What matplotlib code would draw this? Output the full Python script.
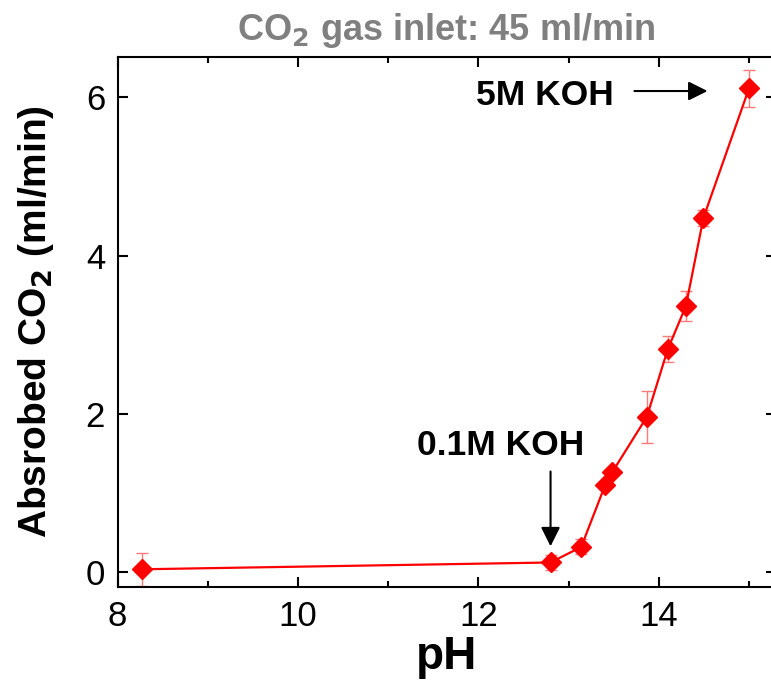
import matplotlib.pyplot as plt

plt.rcParams['font.family'] = ['Liberation Sans', 'DejaVu Sans']

# Absorbed CO2 vs pH
ph = [8.27, 12.80, 13.14, 13.405, 13.486, 13.867, 14.10, 14.30, 14.495, 15.00]
absorbed = [0.034, 0.12, 0.316, 1.097, 1.265, 1.96, 2.817, 3.36, 4.477, 6.114]
err = [0.21, 0.10, 0.095, 0.05, 0.05, 0.33, 0.16, 0.19, 0.10, 0.23]

fig = plt.figure(figsize=(7.71, 6.91), dpi=100)
ax = fig.add_axes([0.1524, 0.1505, 0.8536, 0.767])

ax.errorbar(ph, absorbed, yerr=err, fmt='none', ecolor='#ff7a7a', elinewidth=1,
            capsize=4, capthick=1, zorder=2)
ax.plot(ph, absorbed, color='red', linewidth=1.6, marker='D', markersize=10.5, zorder=3)

ax.set_xlim(8, 15.295)
ax.set_ylim(-0.19, 6.51)
ax.set_xticks([8, 10, 12, 14])
ax.set_xticks([9, 11, 13, 15], minor=True)
ax.set_yticks([0, 2, 4, 6])

ax.tick_params(which='both', direction='in', top=True, right=True, width=1.5)
ax.tick_params(which='major', length=7, labelsize=25, pad=9)
ax.tick_params(which='minor', length=4)
for s in ax.spines.values():
    s.set_linewidth(1.5)

ax.set_xlabel('pH', fontsize=33, fontweight='bold', labelpad=2)
ax.set_ylabel('Absrobed CO$_\\mathbf{2}$ (ml/min)', fontsize=28, fontweight='bold', labelpad=21)
ax.set_title('CO$_\\mathbf{2}$ gas inlet: 45 ml/min', fontsize=26, fontweight='bold',
             color='#808080', pad=12)

arrow = dict(arrowstyle='-|>,head_length=0.58,head_width=0.29', mutation_scale=20,
             color='black', lw=1.5, shrinkA=0, shrinkB=0)
ax.annotate('', xy=(14.54, 6.08), xytext=(13.73, 6.08), arrowprops=arrow)
ax.text(12.74, 5.90, '5M KOH', fontsize=25.5, fontweight='bold', ha='center', va='baseline')
ax.annotate('', xy=(12.80, 0.324), xytext=(12.80, 1.27), arrowprops=arrow)
ax.text(12.25, 1.476, '0.1M KOH', fontsize=25.5, fontweight='bold', ha='center', va='baseline')

fig.savefig('out.png', dpi=100)
